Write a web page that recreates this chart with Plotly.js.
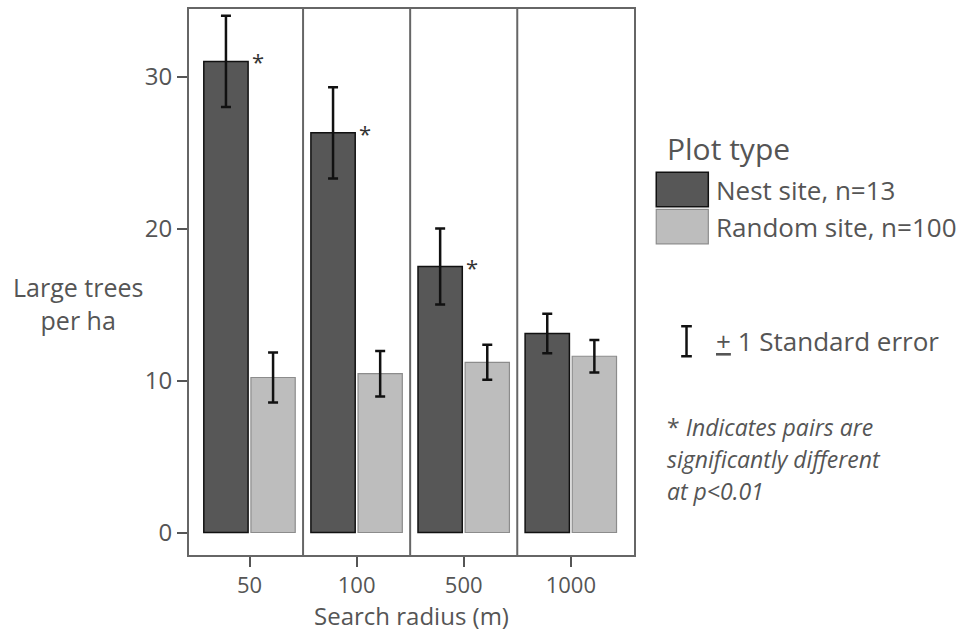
<!DOCTYPE html>
<html>
<head>
<meta charset="utf-8">
<script src="https://cdn.plot.ly/plotly-3.0.1.min.js"></script>
<style>html,body{margin:0;padding:0;background:#fff;}#chart{width:966px;height:635px;}</style>
</head>
<body>
<div id="chart"></div>
<script>
// ---- data ----
var radiusLabels = ["50", "100", "500", "1000"];
var nestName = "Nest site, n=13";
var randomName = "Random site, n=100";
var nestMean = [31.0, 26.3, 17.5, 13.1];
var nestSE = [3.0, 3.0, 2.5, 1.3];
var randomMean = [10.2, 10.45, 11.2, 11.6];
var randomSE = [1.65, 1.5, 1.15, 1.07];
var significant = [true, true, true, false];
var legendTitle = "Plot type";
var seLabel = "<span style='text-decoration:underline'>+</span> 1 Standard error";
var noteLines = ["* <i>Indicates pairs are</i>", "<i>significantly different</i>", "<i>at p&lt;0.01</i>"];
var yTitleText = "Large trees<br>per ha";
var xTitleText = "Search radius (m)";
var yTicks = [0, 10, 20, 30];

var xIdx = radiusLabels.map(function(_, i){ return i; });
var FONT = "'Open Sans', 'Noto Sans', sans-serif";
var TXT = "#555555";

var nestTrace = {
  type: "bar", name: nestName, x: xIdx, y: nestMean,
  marker: {color: "#575757", line: {color: "#111111", width: 1.5}},
  error_y: {type: "data", array: nestSE, visible: true, color: "#111111", thickness: 2.5, width: 5},
  showlegend: false, hoverinfo: "skip"
};
var randomTrace = {
  type: "bar", name: randomName, x: xIdx, y: randomMean,
  marker: {color: "#bdbdbd", line: {color: "#8c8c8c", width: 1.2}},
  error_y: {type: "data", array: randomSE, visible: true, color: "#111111", thickness: 2.5, width: 5},
  showlegend: false, hoverinfo: "skip"
};

var shapes = [];
for (var i = 0; i < radiusLabels.length - 1; i++) {
  shapes.push({type: "line", xref: "x", yref: "paper", x0: i + 0.5, x1: i + 0.5, y0: 0, y1: 1,
               line: {color: "#666666", width: 2}});
}
// legend swatches
shapes.push({type: "rect", xref: "paper", yref: "paper", x0: 1.05, x1: 1.167, y0: 0.638, y1: 0.701,
             fillcolor: "#575757", line: {color: "#111111", width: 1.5}});
shapes.push({type: "rect", xref: "paper", yref: "paper", x0: 1.05, x1: 1.167, y0: 0.57, y1: 0.633,
             fillcolor: "#bdbdbd", line: {color: "#8c8c8c", width: 1.2}});
// SE icon
shapes.push({type: "line", xref: "paper", yref: "paper", x0: 1.118, x1: 1.118, y0: 0.364, y1: 0.419,
             line: {color: "#111111", width: 2.5}});
shapes.push({type: "line", xref: "paper", yref: "paper", x0: 1.106, x1: 1.130, y0: 0.419, y1: 0.419,
             line: {color: "#111111", width: 2.5}});
shapes.push({type: "line", xref: "paper", yref: "paper", x0: 1.106, x1: 1.130, y0: 0.364, y1: 0.364,
             line: {color: "#111111", width: 2.5}});

var annotations = [];
for (var j = 0; j < radiusLabels.length; j++) {
  if (significant[j]) {
    annotations.push({x: j + 0.005, y: nestMean[j], xref: "x", yref: "y", text: "*", showarrow: false,
                      xanchor: "left", yanchor: "middle", yshift: 0,
                      font: {family: FONT, size: 22, color: "#333333"}});
  }
}
annotations.push({xref: "paper", yref: "paper", x: -0.25, y: 0.46, text: yTitleText, showarrow: false,
                  xanchor: "center", yanchor: "middle", align: "center",
                  font: {family: FONT, size: 25, color: TXT}});
annotations.push({xref: "paper", yref: "paper", x: 1.07, y: 0.745, text: legendTitle, showarrow: false,
                  xanchor: "left", yanchor: "middle", font: {family: FONT, size: 30, color: TXT}});
annotations.push({xref: "paper", yref: "paper", x: 1.18, y: 0.668, text: nestName, showarrow: false,
                  xanchor: "left", yanchor: "middle", font: {family: FONT, size: 26, color: TXT}});
annotations.push({xref: "paper", yref: "paper", x: 1.18, y: 0.60, text: randomName, showarrow: false,
                  xanchor: "left", yanchor: "middle", font: {family: FONT, size: 26, color: TXT}});
annotations.push({xref: "paper", yref: "paper", x: 1.18, y: 0.392, text: seLabel, showarrow: false,
                  xanchor: "left", yanchor: "middle", font: {family: FONT, size: 26, color: TXT}});
var noteY = [0.2344, 0.1758, 0.1172];
for (var k = 0; k < noteLines.length; k++) {
  annotations.push({xref: "paper", yref: "paper", x: 1.07, y: noteY[k], text: noteLines[k], showarrow: false,
                    xanchor: "left", yanchor: "middle", align: "left",
                    font: {family: FONT, size: 23, color: TXT}});
}

var layout = {
  width: 966, height: 635,
  margin: {l: 189, r: 332, t: 9, b: 80},
  paper_bgcolor: "#ffffff", plot_bgcolor: "#ffffff",
  barmode: "group", bargap: 0.12, bargroupgap: 0.06,
  font: {family: FONT, color: TXT},
  xaxis: {
    range: [-0.565, 3.59], tickmode: "array", tickvals: xIdx, ticktext: radiusLabels,
    showgrid: false, zeroline: false, showline: true, mirror: true, linecolor: "#666666", linewidth: 2,
    ticks: "outside", ticklen: 10, tickwidth: 2, tickcolor: "#555555",
    tickfont: {family: FONT, size: 22, color: TXT},
    title: {text: xTitleText, font: {family: FONT, size: 24, color: TXT}, standoff: 2}
  },
  yaxis: {
    range: [-1.48, 34.45], tickmode: "array", tickvals: yTicks,
    showgrid: false, zeroline: false, showline: true, mirror: true, linecolor: "#666666", linewidth: 2,
    ticks: "outside", ticklen: 10, tickwidth: 2, tickcolor: "#555555",
    tickfont: {family: FONT, size: 24, color: TXT}
  },
  shapes: shapes,
  annotations: annotations,
  showlegend: false
};

Plotly.newPlot("chart", [nestTrace, randomTrace], layout, {displayModeBar: false, staticPlot: true});
</script>
</body>
</html>
